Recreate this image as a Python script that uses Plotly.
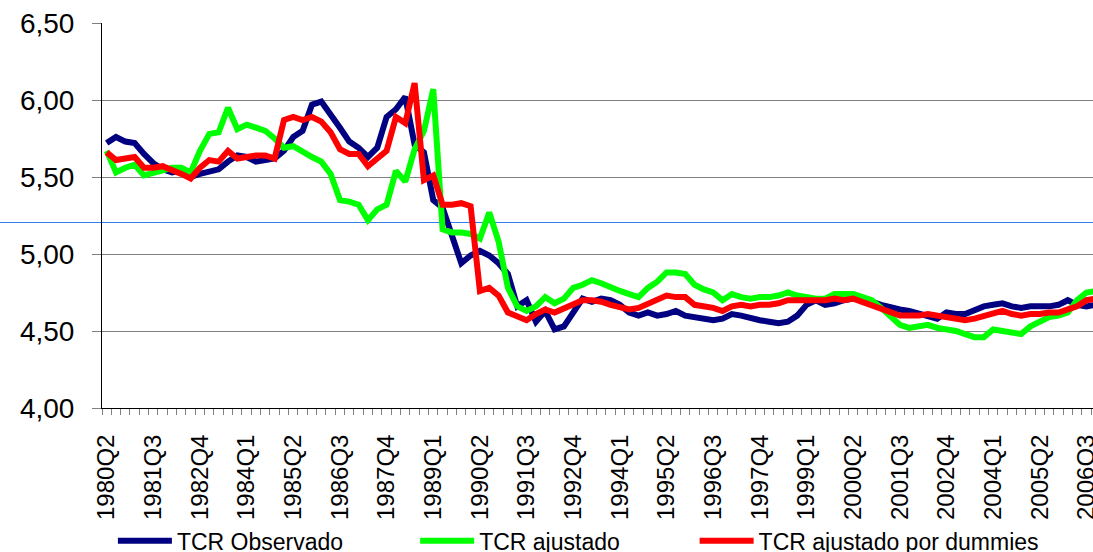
import plotly.graph_objects as go

# quarters 1980Q2 .. 2006Q4
quarters = [f"{y}Q{q}" for y in range(1980, 2007) for q in range(1, 5)][1:]
label_every = 5

tcr_observado = [5.72, 5.76, 5.73, 5.72, 5.65, 5.59, 5.55, 5.53, 5.54, 5.50,
                 5.52, 5.54, 5.55, 5.60, 5.64, 5.63, 5.60, 5.61, 5.62, 5.67,
                 5.76, 5.80, 5.97, 5.99, 5.91, 5.82, 5.73, 5.69, 5.63, 5.69,
                 5.89, 5.94, 6.02, 5.71, 5.66, 5.35, 5.30, 5.12, 4.94, 4.99,
                 5.02, 4.99, 4.94, 4.87, 4.66, 4.70, 4.56, 4.63, 4.51, 4.53,
                 4.62, 4.71, 4.69, 4.71, 4.70, 4.67, 4.62, 4.60, 4.62, 4.60,
                 4.61, 4.63, 4.60, 4.59, 4.58, 4.57, 4.58, 4.61, 4.60, 4.58,
                 4.57, 4.56, 4.55, 4.56, 4.60, 4.67, 4.70, 4.67, 4.68, 4.70,
                 4.71, 4.70, 4.69, 4.67, 4.65, 4.64, 4.63, 4.61, 4.60, 4.58,
                 4.62, 4.61, 4.61, 4.64, 4.66, 4.67, 4.68, 4.66, 4.65, 4.66,
                 4.66, 4.66, 4.67, 4.70, 4.67, 4.66, 4.67]

tcr_ajustado = [5.67, 5.53, 5.56, 5.58, 5.51, 5.53, 5.54, 5.56, 5.56, 5.53,
                5.67, 5.78, 5.79, 5.95, 5.81, 5.84, 5.82, 5.80, 5.75, 5.69,
                5.70, 5.66, 5.63, 5.60, 5.52, 5.35, 5.34, 5.32, 5.22, 5.29,
                5.32, 5.54, 5.47, 5.68, 5.80, 6.07, 5.16, 5.14, 5.14, 5.13,
                5.10, 5.27, 5.08, 4.78, 4.66, 4.63, 4.66, 4.72, 4.68, 4.71,
                4.78, 4.80, 4.83, 4.81, 4.78, 4.76, 4.74, 4.72, 4.78, 4.82,
                4.88, 4.88, 4.87, 4.80, 4.77, 4.75, 4.70, 4.74, 4.72, 4.71,
                4.72, 4.72, 4.73, 4.75, 4.73, 4.72, 4.71, 4.71, 4.74, 4.74,
                4.74, 4.72, 4.70, 4.65, 4.59, 4.54, 4.52, 4.53, 4.54, 4.52,
                4.51, 4.50, 4.48, 4.46, 4.46, 4.51, 4.50, 4.49, 4.48, 4.53,
                4.56, 4.59, 4.60, 4.62, 4.70, 4.75, 4.76]

tcr_dummies = [5.66, 5.61, 5.62, 5.63, 5.56, 5.56, 5.57, 5.55, 5.52, 5.49,
               5.56, 5.61, 5.60, 5.67, 5.62, 5.63, 5.64, 5.64, 5.62, 5.87,
               5.89, 5.87, 5.89, 5.86, 5.79, 5.68, 5.65, 5.65, 5.57, 5.62,
               5.67, 5.89, 5.85, 6.11, 5.48, 5.51, 5.32, 5.32, 5.33, 5.31,
               4.76, 4.78, 4.73, 4.62, 4.59, 4.57, 4.61, 4.64, 4.62, 4.65,
               4.68, 4.70, 4.70, 4.69, 4.67, 4.65, 4.64, 4.65, 4.68, 4.71,
               4.73, 4.72, 4.72, 4.67, 4.66, 4.65, 4.63, 4.66, 4.67, 4.66,
               4.67, 4.67, 4.68, 4.70, 4.70, 4.70, 4.70, 4.70, 4.71, 4.70,
               4.71, 4.69, 4.67, 4.64, 4.62, 4.60, 4.60, 4.60, 4.61, 4.60,
               4.59, 4.58, 4.57, 4.58, 4.60, 4.62, 4.63, 4.61, 4.60, 4.61,
               4.61, 4.62, 4.62, 4.64, 4.66, 4.70, 4.71]

x = list(range(len(quarters)))
font = "Liberation Sans, Arial, sans-serif"

fig = go.Figure()
fig.add_trace(go.Scatter(x=x, y=tcr_observado, mode="lines", name="TCR Observado",
                         line=dict(color="#000080", width=6), legend="legend"))
fig.add_trace(go.Scatter(x=x, y=tcr_ajustado, mode="lines", name="TCR ajustado",
                         line=dict(color="#00FF00", width=6), legend="legend2"))
fig.add_trace(go.Scatter(x=x, y=tcr_dummies, mode="lines", name="TCR ajustado por dummies",
                         line=dict(color="#FF0000", width=6), legend="legend3"))

# stray thin blue rule across the picture
fig.add_shape(type="line", xref="paper", yref="y", x0=-0.2, x1=1.1, y0=5.2045, y1=5.2045,
              line=dict(color="#2F80ED", width=1), layer="below")

fig.update_xaxes(range=[-0.5, 105.7], showgrid=False, zeroline=False,
                 showline=True, linecolor="black", linewidth=1,
                 tickmode="array", tickvals=x[::label_every], ticktext=quarters[::label_every],
                 tickangle=-90, ticks="", ticklabelstandoff=16, ticklabeloverflow="allow",
                 tickfont=dict(family=font, size=24, color="black"),
                 minor=dict(tick0=-0.5, dtick=1, ticks="outside", ticklen=6,
                            tickcolor="#808080", showgrid=False))
fig.update_yaxes(range=[4.0, 6.5], dtick=0.5, tickformat=".2f",
                 showgrid=True, gridcolor="#808080", gridwidth=1, zeroline=False,
                 showline=True, linecolor="black", linewidth=1,
                 ticks="outside", ticklen=9, tickcolor="#808080", ticklabelstandoff=12,
                 tickfont=dict(family=font, size=28, color="black"))

leg = dict(orientation="h", xanchor="left", y=-0.345, yanchor="middle",
           font=dict(family=font, size=23, color="black"),
           itemwidth=54, bgcolor="rgba(0,0,0,0)")

fig.update_layout(width=1093, height=552, separators=",.",
                  margin=dict(l=102, r=0, t=23, b=144, autoexpand=False),
                  paper_bgcolor="white", plot_bgcolor="white",
                  showlegend=True,
                  legend=dict(leg, x=0.011),
                  legend2=dict(leg, x=0.316),
                  legend3=dict(leg, x=0.598))

fig.write_html("out.html", config={"displayModeBar": False},
               post_script="document.body.style.margin='0';")
